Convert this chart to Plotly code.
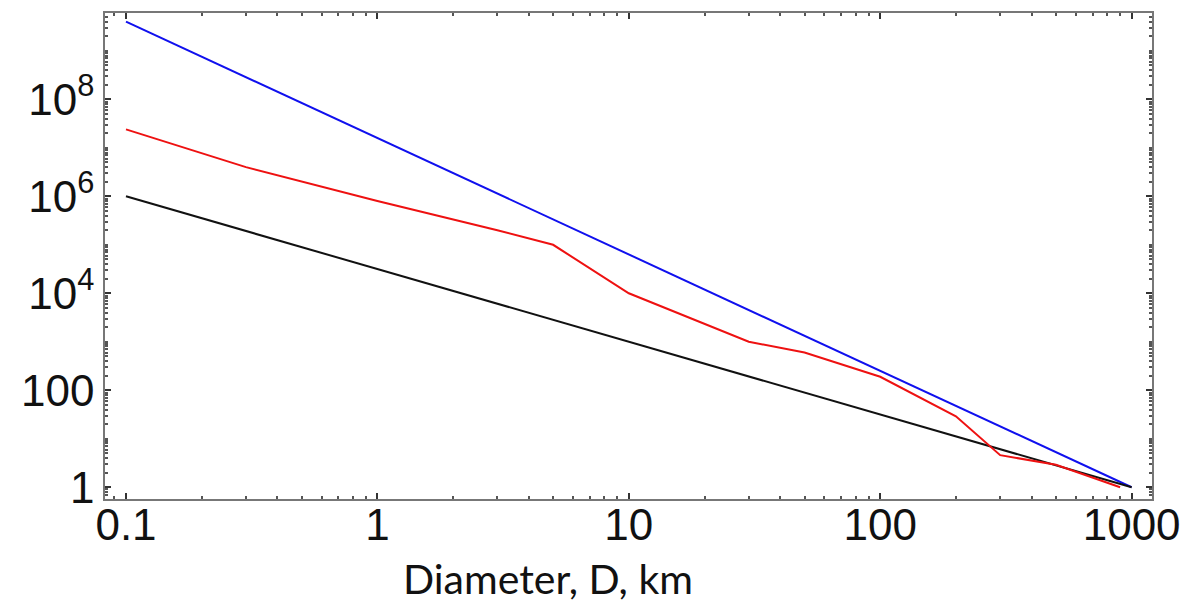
import plotly.graph_objects as go

# Data (log-log)
blue_d = [0.1, 1000]
blue_n = [4.0e9, 1.0]

black_d = [0.1, 1000]
black_n = [1.0e6, 1.0]

red_d = [0.1, 0.3, 1, 3, 5, 10, 30, 50, 100, 200, 300, 500, 900]
red_n = [2.4e7, 4.0e6, 8.0e5, 2.0e5, 1.0e5, 1.0e4, 1.0e3, 6.0e2, 1.9e2, 29, 4.6, 2.9, 1.0]

x_ticks = [0.1, 1, 10, 100, 1000]
x_ticktext = ["0.1", "1", "10", "100", "1000"]
y_ticks = [1, 100, 1e4, 1e6, 1e8]
y_ticktext = ["1", "100", "10<sup>4</sup>", "10<sup>6</sup>", "10<sup>8</sup>"]

fig = go.Figure()
fig.add_trace(go.Scatter(x=blue_d, y=blue_n, mode="lines",
                         line=dict(color="#1010ee", width=2), showlegend=False))
fig.add_trace(go.Scatter(x=black_d, y=black_n, mode="lines",
                         line=dict(color="#111111", width=2), showlegend=False))
fig.add_trace(go.Scatter(x=red_d, y=red_n, mode="lines",
                         line=dict(color="#ee1111", width=2), showlegend=False))

tick_font = dict(family="Liberation Sans, Arial, sans-serif", size=44, color="#111111")

fig.update_xaxes(type="log", range=[-1.0835, 3.081],
                 tickmode="array", tickvals=x_ticks, ticktext=x_ticktext,
                 ticks="inside", ticklen=6, tickwidth=1.5, tickcolor="#333333",
                 minor=dict(ticks="inside", ticklen=3, dtick="D1", tickcolor="#555555", showgrid=False),
                 showline=True, linecolor="#777777", linewidth=1.5, mirror="ticks",
                 showgrid=False, zeroline=False, tickfont=tick_font,
                 ticklabelstandoff=-14)
fig.update_yaxes(type="log", range=[-0.242, 9.78],
                 tickmode="array", tickvals=y_ticks, ticktext=y_ticktext,
                 ticks="inside", ticklen=6, tickwidth=1.5, tickcolor="#333333",
                 minor=dict(ticks="inside", ticklen=3, dtick="D1", tickcolor="#555555", showgrid=False),
                 showline=True, linecolor="#777777", linewidth=1.5, mirror="ticks",
                 showgrid=False, zeroline=False, tickfont=tick_font)

fig.add_annotation(text="Diameter, D, km", xref="paper", yref="paper",
                   x=0.423, y=-0.163, xanchor="center", yanchor="middle",
                   showarrow=False,
                   font=dict(family="Lato, Noto Sans, sans-serif", size=41, color="#111111"))

fig.update_layout(width=1196, height=606,
                  margin=dict(l=105, r=44, t=13, b=107),
                  plot_bgcolor="white", paper_bgcolor="white")

fig.write_html("out.html")
